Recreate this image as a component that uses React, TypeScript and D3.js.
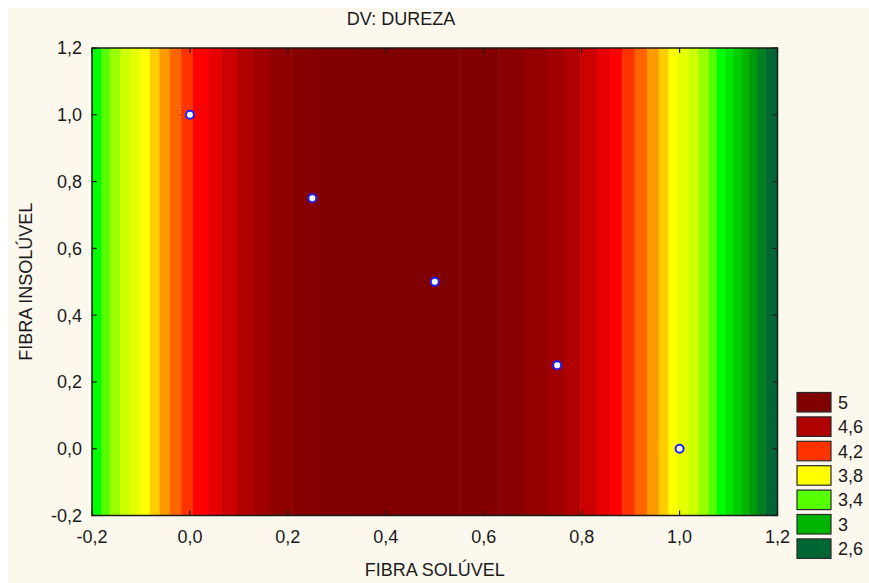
import React from 'react';
import * as d3 from 'd3';

// contour crossings along FIBRA SOLÚVEL (the surface only varies with x)
const bandEdges = [
  -0.2, -0.181, -0.164, -0.143, -0.123, -0.103, -0.082, -0.062, -0.041, -0.018,
  0.006, 0.037, 0.064, 0.095, 0.13, 0.163, 0.207, 0.255, 0.341, 0.552,
  0.63, 0.684, 0.729, 0.765, 0.797, 0.831, 0.858, 0.883, 0.908, 0.933,
  0.957, 0.977, 0.997, 1.018, 1.038, 1.059, 1.076, 1.093, 1.11, 1.127,
  1.142, 1.158, 1.175, 1.2,
];
const bandColors = [
  '#00ff00', '#55ff00', '#99ff00', '#ccff00', '#e6ff00', '#ffff00', '#ffcc00', '#ff9900', '#ff6600', '#ff3300',
  '#ff0000', '#e60000', '#cc0000', '#b00000', '#a00000', '#900000', '#860000', '#830000', '#800000', '#830000',
  '#880000', '#920000', '#a00000', '#b00000', '#cc0000', '#e60000', '#ff0000', '#ff3300', '#ff6600', '#ff9900',
  '#ffcc00', '#ffff00', '#e6ff00', '#ccff00', '#99ff00', '#55ff00', '#00ff00', '#00e600', '#00cc00', '#00b400',
  '#009a0a', '#00801e', '#006633',
];

const pointsX = [0, 0.25, 0.5, 0.75, 1];
const pointsY = [1, 0.75, 0.5, 0.25, 0];

const axisTicks = [-0.2, 0, 0.2, 0.4, 0.6, 0.8, 1.0, 1.2];

const legendLabels = ['5', '4,6', '4,2', '3,8', '3,4', '3', '2,6'];
const legendColors = ['#800000', '#b00000', '#ff3300', '#ffff00', '#55ff00', '#00b400', '#006633'];

const W = 869;
const H = 583;
const FONT = '"Liberation Sans", Arial, sans-serif';

export default function App() {
  const x = d3.scaleLinear().domain([-0.2, 1.2]).range([92, 777.5]);
  const y = d3.scaleLinear().domain([-0.2, 1.2]).range([515.5, 48]);
  // comma decimals, plain hyphen for negatives
  const fmt = (v: number) => d3.format('.1f')(v).replace('.', ',').replace('\u2212', '-');
  const [x0, x1] = x.range();
  const [y0, y1] = y.range();

  return (
    <div style={{ position: 'absolute', left: 0, top: 0 }}>
      <svg width={W} height={H} style={{ display: 'block' }} fontFamily={FONT}>
        <rect width={W} height={H} fill="#ffffff" />
        <rect x={8} y={8} width={W - 8} height={H - 8} fill="#fdf8ee" />

        <text x={401} y={25} fontSize={18} textAnchor="middle" fill="#1a1a1a">DV: DUREZA</text>

        {bandColors.map((c, i) => (
          <rect key={i} x={x(bandEdges[i])} y={y1}
            width={x(bandEdges[i + 1]) - x(bandEdges[i]) + 0.5} height={y0 - y1} fill={c} />
        ))}

        <rect x={x0} y={y1} width={x1 - x0} height={y0 - y1} fill="none" stroke="#1a1a1a" strokeWidth={1.5} />

        {axisTicks.map((t) => (
          <g key={'x' + t}>
            <line x1={x(t)} x2={x(t)} y1={y0} y2={y0 - 5} stroke="#1a1a1a" strokeWidth={1.2} />
            <line x1={x(t)} x2={x(t)} y1={y1} y2={y1 + 5} stroke="#1a1a1a" strokeWidth={1.2} />
            <text x={x(t)} y={543} fontSize={18} textAnchor="middle" fill="#1a1a1a">{fmt(t)}</text>
          </g>
        ))}
        {axisTicks.map((t) => (
          <g key={'y' + t}>
            <line x1={x0} x2={x0 + 5} y1={y(t)} y2={y(t)} stroke="#1a1a1a" strokeWidth={1.2} />
            <line x1={x1} x2={x1 - 5} y1={y(t)} y2={y(t)} stroke="#1a1a1a" strokeWidth={1.2} />
            <text x={82} y={y(t)} dy="0.36em" fontSize={18} textAnchor="end" fill="#1a1a1a">{fmt(t)}</text>
          </g>
        ))}

        <text x={(x0 + x1) / 2} y={576} fontSize={18} textAnchor="middle" fill="#1a1a1a">FIBRA SOLÚVEL</text>
        <text transform={`translate(32,${(y0 + y1) / 2}) rotate(-90)`} fontSize={18} textAnchor="middle" fill="#1a1a1a">
          FIBRA INSOLÚVEL
        </text>

        {pointsX.map((px, i) => (
          <circle key={i} cx={x(px)} cy={y(pointsY[i])} r={4} fill="#ffffff" stroke="#2020ff" strokeWidth={2} />
        ))}

        {legendLabels.map((l, i) => (
          <g key={l} transform={`translate(797,${392.5 + i * 24.4})`}>
            <rect width={34} height={19.5} fill={legendColors[i]} stroke="#2a2a2a" strokeWidth={1.2} />
            <text x={41} y={9.75} dy="0.36em" fontSize={18} fill="#1a1a1a">{l}</text>
          </g>
        ))}
      </svg>
    </div>
  );
}
